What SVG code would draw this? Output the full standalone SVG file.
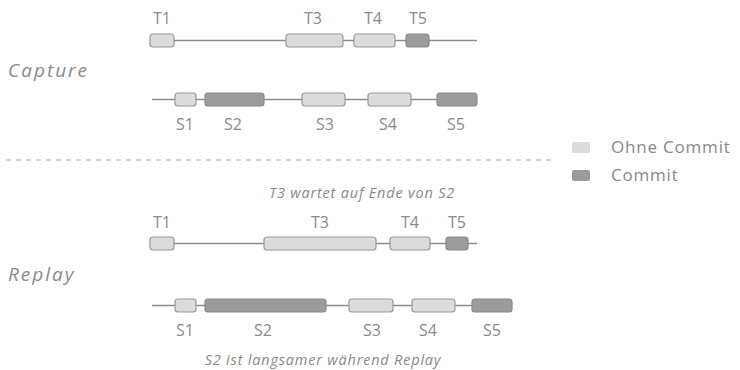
<svg xmlns="http://www.w3.org/2000/svg" width="740" height="370" viewBox="0 0 740 370">
  <style>
    .lane { stroke: #8c8c8c; stroke-width: 1.3; fill: none; }
    .light { fill: #dcdcdc; stroke: #9a9a9a; stroke-width: 1.2; }
    .dark { fill: #9c9c9c; stroke: #8a8a8a; stroke-width: 1.2; }
    .lbl { font-family: "Open Sans", "DejaVu Sans", sans-serif; font-size: 16px; fill: #8a8a8a; text-anchor: middle; }
    .phase { font-family: "Open Sans", "DejaVu Sans", sans-serif; font-size: 19px; font-style: italic; fill: #8a8a8a; letter-spacing: 2px; }
    .note { font-family: "Open Sans", "DejaVu Sans", sans-serif; font-size: 14.5px; font-style: italic; fill: #8a8a8a; text-anchor: middle; letter-spacing: 0.8px; }
    .legend { font-family: "Open Sans", "DejaVu Sans", sans-serif; font-size: 17px; fill: #8a8a8a; letter-spacing: 0.8px; }
    .sep { stroke: #a8a8a8; stroke-width: 1.2; stroke-dasharray: 5 5; }
  </style>

  <!-- lanes -->
  <g id="connectors">
    <line class="lane" x1="174" y1="40.5" x2="477" y2="40.5"/>
    <line class="lane" x1="152" y1="99.5" x2="477" y2="99.5"/>
    <line class="lane" x1="174" y1="243.5" x2="477" y2="243.5"/>
    <line class="lane" x1="152" y1="305.5" x2="512" y2="305.5"/>
  </g>

  <text class="phase" x="8" y="77">Capture</text>
  <text class="phase" x="8" y="281">Replay</text>

  <line class="sep" x1="6" y1="160" x2="552" y2="160"/>

  <!-- capture: T row -->
  <g id="cap-t1"><rect class="light" x="150" y="34" width="24" height="13" rx="3"/><text class="lbl" x="162" y="24">T1</text></g>
  <g id="cap-t3"><rect class="light" x="286" y="34" width="57" height="13" rx="3"/><text class="lbl" x="313" y="24">T3</text></g>
  <g id="cap-t4"><rect class="light" x="354" y="34" width="41" height="13" rx="3"/><text class="lbl" x="373" y="24">T4</text></g>
  <g id="cap-t5"><rect class="dark" x="406" y="34" width="23" height="13" rx="3"/><text class="lbl" x="418" y="24">T5</text></g>

  <!-- capture: S row -->
  <g id="cap-s1"><rect class="light" x="175" y="93" width="21" height="13" rx="3"/><text class="lbl" x="185" y="130">S1</text></g>
  <g id="cap-s2"><rect class="dark" x="205" y="93" width="59" height="13" rx="3"/><text class="lbl" x="233" y="130">S2</text></g>
  <g id="cap-s3"><rect class="light" x="302" y="93" width="43" height="13" rx="3"/><text class="lbl" x="325" y="130">S3</text></g>
  <g id="cap-s4"><rect class="light" x="368" y="93" width="43" height="13" rx="3"/><text class="lbl" x="388" y="130">S4</text></g>
  <g id="cap-s5"><rect class="dark" x="437" y="93" width="40" height="13" rx="3"/><text class="lbl" x="456" y="130">S5</text></g>

  <!-- legend -->
  <g id="legend-open"><rect x="572" y="142" width="18" height="11" rx="2" fill="#dcdcdc"/><text class="legend" x="611" y="153">Ohne Commit</text></g>
  <g id="legend-commit"><rect x="572" y="170" width="18" height="11" rx="2" fill="#9c9c9c"/><text class="legend" x="611" y="181">Commit</text></g>

  <text class="note" x="362" y="198">T3 wartet auf Ende von S2</text>

  <!-- replay: T row -->
  <g id="rep-t1"><rect class="light" x="150" y="237" width="24" height="13" rx="3"/><text class="lbl" x="162" y="228">T1</text></g>
  <g id="rep-t3"><rect class="light" x="264" y="237" width="112" height="13" rx="3"/><text class="lbl" x="320" y="228">T3</text></g>
  <g id="rep-t4"><rect class="light" x="390" y="237" width="40" height="13" rx="3"/><text class="lbl" x="410" y="228">T4</text></g>
  <g id="rep-t5"><rect class="dark" x="446" y="237" width="22" height="13" rx="3"/><text class="lbl" x="457" y="228">T5</text></g>

  <!-- replay: S row -->
  <g id="rep-s1"><rect class="light" x="175" y="299" width="21" height="13" rx="3"/><text class="lbl" x="185" y="336">S1</text></g>
  <g id="rep-s2"><rect class="dark" x="205" y="299" width="121" height="13" rx="3"/><text class="lbl" x="263" y="336">S2</text></g>
  <g id="rep-s3"><rect class="light" x="349" y="299" width="44" height="13" rx="3"/><text class="lbl" x="372" y="336">S3</text></g>
  <g id="rep-s4"><rect class="light" x="412" y="299" width="43" height="13" rx="3"/><text class="lbl" x="428" y="336">S4</text></g>
  <g id="rep-s5"><rect class="dark" x="472" y="299" width="40" height="13" rx="3"/><text class="lbl" x="492" y="336">S5</text></g>

  <text class="note" x="323" y="365">S2 ist langsamer während Replay</text>
</svg>
